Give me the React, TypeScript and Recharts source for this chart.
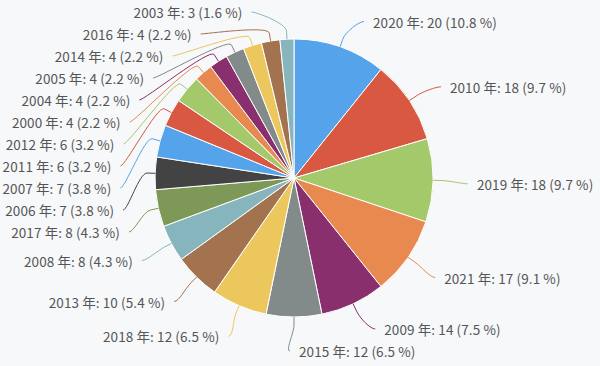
import { PieChart, Pie, Cell } from 'recharts';

const years = ['2020', '2010', '2019', '2021', '2009', '2015', '2018', '2013', '2008', '2017', '2006', '2007', '2011', '2012', '2000', '2004', '2005', '2014', '2016', '2003'];
const counts = [20, 18, 18, 17, 14, 12, 12, 10, 8, 8, 7, 7, 6, 6, 4, 4, 4, 4, 4, 3];
const palette = ['#55a3ea', '#d85841', '#a4c96a', '#e8894f', '#8a2f6d', '#828a8a', '#ecc75d', '#a37350', '#87b5bd', '#7e9957', '#434343'];

const W = 600;
const H = 366;
const CX = 294;
const CY = 178;
const R = 139;
// label placement (highcharts-ish)
const NAT_R = 169;
const NAT_SHIFT = 3;
const X_RX = 178;
const X_RY = 172;
const ROW = 22;
const TOP = 12;
const BOTTOM = 351;

const total = counts.reduce((a, b) => a + b, 0);
const data = years.map((y, i) => ({ name: y, value: counts[i] }));

type Lab = { i: number; theta: number; left: boolean; ny: number; y: number; x: number };

function spread(items: Lab[]) {
  let groups: Lab[][] = items.map((it) => [it]);
  const start = (g: Lab[]) => {
    const m = g.reduce((s, it) => s + it.ny, 0) / g.length;
    let s = m - ((g.length - 1) * ROW) / 2;
    s = Math.min(s, BOTTOM - (g.length - 1) * ROW);
    return Math.max(s, TOP);
  };
  let merged = true;
  while (merged) {
    merged = false;
    for (let k = 0; k < groups.length - 1; k++) {
      if (start(groups[k + 1]) < start(groups[k]) + groups[k].length * ROW) {
        groups.splice(k, 2, [...groups[k], ...groups[k + 1]]);
        merged = true;
        break;
      }
    }
  }
  groups.forEach((g) => {
    const s = start(g);
    g.forEach((it, j) => (it.y = s + j * ROW));
  });
}

function layout(): Lab[] {
  let acc = 0;
  const labs = counts.map((v, i) => {
    const theta = ((acc + v / 2) / total) * 2 * Math.PI;
    acc += v;
    return { i, theta, left: Math.sin(theta) < -1e-9, ny: CY + NAT_SHIFT - NAT_R * Math.cos(theta), y: 0, x: 0 };
  });
  [true, false].forEach((side) => spread(labs.filter((l) => l.left === side).sort((a, b) => a.ny - b.ny)));
  labs.forEach((l) => {
    const d = Math.min(1, Math.abs(l.y - CY) / X_RY);
    l.x = CX + (l.left ? -1 : 1) * (X_RX * Math.sqrt(1 - d * d) + 5);
  });
  return labs;
}

const labels = layout();

const renderLabel = (props: any) => {
  const l = labels[props.index];
  const color = palette[l.i % palette.length];
  const sign = l.left ? -1 : 1;
  const sx = CX + R * Math.sin(l.theta);
  const sy = CY - R * Math.cos(l.theta);
  const bx = CX + (R + 8) * Math.sin(l.theta);
  const by = CY - (R + 8) * Math.cos(l.theta);
  const ex = l.x - sign * 9;
  const ey = l.y;
  const path = `M${ex},${ey} C${ex - sign * 5},${ey} ${2 * bx - sx},${2 * by - sy} ${bx},${by} L${sx},${sy}`;
  const pct = ((counts[l.i] / total) * 100).toFixed(1);
  return (
    <g key={`lab-${l.i}`}>
      <path d={path} stroke={color} strokeWidth={1} fill="none" />
      <text x={l.x} y={l.y} textAnchor={l.left ? 'end' : 'start'} dominantBaseline="central" fontSize={13.5} letterSpacing={0.1} fill="#555">
        {`${years[l.i]} 年: ${counts[l.i]} (${pct} %)`}
      </text>
    </g>
  );
};

export default function App() {
  return (
    <div style={{ position: 'absolute', left: 0, top: 0, width: W, height: H, background: '#f7f8fa', fontFamily: "'Noto Sans CJK JP', 'Noto Sans', sans-serif" }}>
      <PieChart width={W} height={H} margin={{ top: 0, right: 0, bottom: 0, left: 0 }}>
        <Pie
          data={data}
          dataKey="value"
          nameKey="name"
          cx={CX}
          cy={CY}
          outerRadius={R}
          startAngle={90}
          endAngle={-270}
          stroke="#fff"
          strokeWidth={1}
          label={renderLabel}
          labelLine={false}
          isAnimationActive={false}
        >
          {data.map((d, i) => (
            <Cell key={d.name} fill={palette[i % palette.length]} />
          ))}
        </Pie>
      </PieChart>
    </div>
  );
}
